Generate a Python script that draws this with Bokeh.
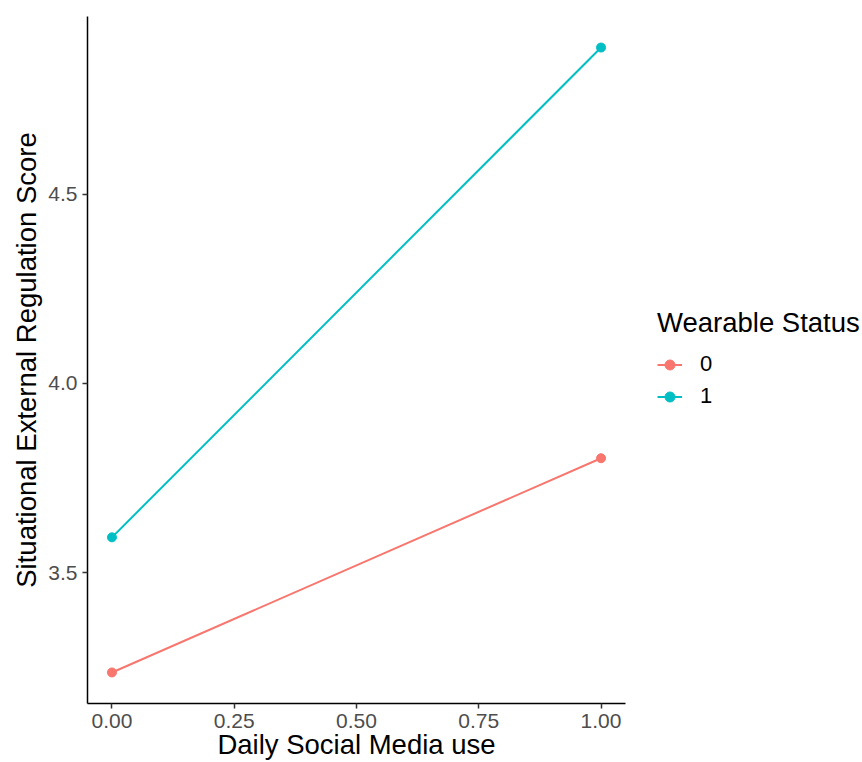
from bokeh.plotting import figure
from bokeh.layouts import row
from bokeh.models import (Range1d, FixedTicker, NumeralTickFormatter, Legend, LegendItem)
from bokeh.embed import file_html
from bokeh.resources import INLINE

# Mean situational external regulation score by daily social media use
social_media_use = [0.0, 1.0]
score_wearable_0 = [3.236, 3.802]
score_wearable_1 = [3.593, 4.887]
group_labels = ["0", "1"]
group_colors = ["#F8766D", "#00BFC4"]
x_ticks = [0.0, 0.25, 0.5, 0.75, 1.0]
y_ticks = [3.5, 4.0, 4.5]

FONT = "Liberation Sans"
LINE_W = 2
POINT_SIZE = 9

p = figure(width=640, height=762, output_backend="svg", toolbar_location=None,
           x_range=Range1d(-0.05, 1.05), y_range=Range1d(3.154, 4.969),
           min_border_left=87, min_border_right=15, min_border_top=16,
           min_border_bottom=59)
p.outline_line_color = None
p.grid.visible = False

for series, color in zip([score_wearable_0, score_wearable_1], group_colors):
    p.line(social_media_use, series, line_color=color, line_width=LINE_W)
    p.scatter(social_media_use, series, size=POINT_SIZE, fill_color=color, line_color=color)

for ax in (p.xaxis[0], p.yaxis[0]):
    ax.axis_line_color = "black"
    ax.axis_line_width = 1.5
    ax.major_tick_line_color = "#333333"
    ax.major_tick_line_width = 1.5
    ax.major_tick_out = 5
    ax.major_tick_in = 0
    ax.minor_tick_line_color = None
    ax.major_label_text_font = FONT
    ax.major_label_text_font_size = "21px"
    ax.major_label_text_color = "#4D4D4D"
    ax.axis_label_text_font = FONT
    ax.axis_label_text_font_size = "27.5px"
    ax.axis_label_text_font_style = "normal"
    ax.axis_label_text_color = "black"

p.xaxis.ticker = FixedTicker(ticks=x_ticks)
p.xaxis.formatter = NumeralTickFormatter(format="0.00")
p.yaxis.ticker = FixedTicker(ticks=y_ticks)
p.yaxis.formatter = NumeralTickFormatter(format="0.0")
p.xaxis.axis_label = "Daily Social Media use"
p.yaxis.axis_label = "Situational External Regulation Score"
p.xaxis.major_label_standoff = 5
p.xaxis.axis_label_standoff = -2
p.yaxis.major_label_standoff = 5
p.yaxis.axis_label_standoff = 3

# legend panel to the right of the plot; its sample glyphs sit off-range
lg = figure(width=222, height=762, output_backend="svg", toolbar_location=None,
            x_range=Range1d(0, 1), y_range=Range1d(0, 1),
            x_axis_type=None, y_axis_type=None, min_border=0)
lg.outline_line_color = None
lg.grid.visible = False

items = []
for label, color in zip(group_labels, group_colors):
    ln = lg.line([-5, -4], [-5, -5], line_color=color, line_width=LINE_W)
    pt = lg.scatter([-5], [-5], size=POINT_SIZE, fill_color=color, line_color=color)
    items.append(LegendItem(label=label, renderers=[ln, pt]))

legend = Legend(items=items, location=(17, 294), title="Wearable Status")
legend.title_text_font = FONT
legend.title_text_font_size = "27.5px"
legend.title_text_font_style = "normal"
legend.title_text_color = "black"
legend.title_standoff = 12
legend.label_text_font = FONT
legend.label_text_font_size = "22px"
legend.label_text_color = "black"
legend.glyph_width = 25
legend.glyph_height = 25
legend.label_height = 25
legend.label_standoff = 18
legend.spacing = 6
legend.padding = 0
legend.margin = 0
legend.border_line_color = None
legend.background_fill_alpha = 0
lg.add_layout(legend)

layout = row(p, lg)
open("out.html", "w").write(file_html(layout, INLINE))
